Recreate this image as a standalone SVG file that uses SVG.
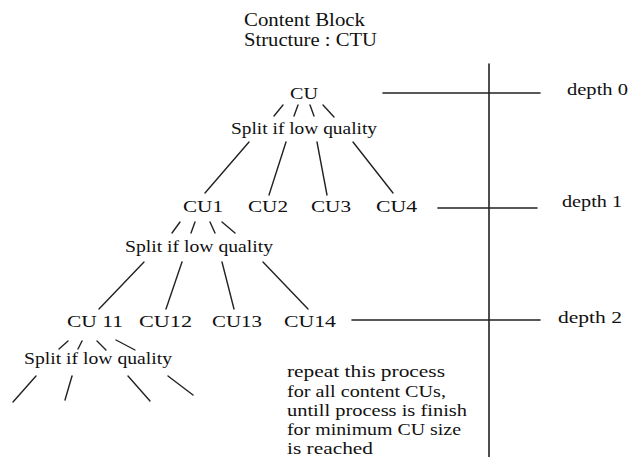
<svg xmlns="http://www.w3.org/2000/svg" width="639" height="457" viewBox="0 0 639 457">
<style>
text{fill:#111}
line{stroke:#222;stroke-width:1.4;stroke-linecap:round}
.ax{stroke-width:1.6}
</style>
<rect width="639" height="457" fill="#fff"/>
<g font-family="Liberation Serif" font-size="17">
<g id="title" font-size="18">
<text x="244" y="26" textLength="121" lengthAdjust="spacingAndGlyphs">Content Block</text>
<text x="244" y="46" textLength="133" lengthAdjust="spacingAndGlyphs">Structure : CTU</text>
</g>
<g id="axis">
<line class="ax" x1="489" y1="64" x2="489" y2="457"/>
<line class="ax" x1="383" y1="93" x2="540" y2="93"/>
<line class="ax" x1="438" y1="208" x2="537" y2="208"/>
<line class="ax" x1="352" y1="320" x2="540" y2="320"/>
<text x="567" y="95" textLength="61" lengthAdjust="spacingAndGlyphs">depth 0</text>
<text x="562" y="207" textLength="60" lengthAdjust="spacingAndGlyphs">depth 1</text>
<text x="558" y="323" textLength="64" lengthAdjust="spacingAndGlyphs">depth 2</text>
</g>
<g id="cu"><text x="290" y="99" textLength="28" lengthAdjust="spacingAndGlyphs">CU</text></g>
<g id="split1"><text x="231" y="134" textLength="146" lengthAdjust="spacingAndGlyphs">Split if low quality</text></g>
<g id="cu1"><text x="183" y="212" textLength="40" lengthAdjust="spacingAndGlyphs">CU1</text></g>
<g id="cu2"><text x="248" y="212" textLength="40" lengthAdjust="spacingAndGlyphs">CU2</text></g>
<g id="cu3"><text x="311" y="212" textLength="40" lengthAdjust="spacingAndGlyphs">CU3</text></g>
<g id="cu4"><text x="376" y="212" textLength="41" lengthAdjust="spacingAndGlyphs">CU4</text></g>
<g id="split2"><text x="125" y="252" textLength="148" lengthAdjust="spacingAndGlyphs">Split if low quality</text></g>
<g id="cu11"><text x="67" y="327" textLength="56" lengthAdjust="spacingAndGlyphs">CU 11</text></g>
<g id="cu12"><text x="139" y="327" textLength="53" lengthAdjust="spacingAndGlyphs">CU12</text></g>
<g id="cu13"><text x="212" y="327" textLength="50" lengthAdjust="spacingAndGlyphs">CU13</text></g>
<g id="cu14"><text x="284" y="327" textLength="52" lengthAdjust="spacingAndGlyphs">CU14</text></g>
<g id="split3"><text x="24" y="364" textLength="148" lengthAdjust="spacingAndGlyphs">Split if low quality</text></g>
<g id="note" font-size="16.5">
<text x="287" y="377" textLength="158" lengthAdjust="spacingAndGlyphs">repeat this process</text>
<text x="287" y="397" textLength="159" lengthAdjust="spacingAndGlyphs">for all content CUs,</text>
<text x="287" y="416" textLength="180" lengthAdjust="spacingAndGlyphs">untill process is finish</text>
<text x="287" y="435" textLength="174" lengthAdjust="spacingAndGlyphs">for minimum CU size</text>
<text x="287" y="454" textLength="86" lengthAdjust="spacingAndGlyphs">is reached</text>
</g>
<g id="connectors">
<line x1="274" y1="116" x2="283" y2="105"/>
<line x1="294" y1="116" x2="298" y2="105"/>
<line x1="310" y1="105" x2="314" y2="116"/>
<line x1="323" y1="105" x2="334" y2="117"/>
<line x1="249" y1="142" x2="205" y2="193"/>
<line x1="286" y1="142" x2="269" y2="195"/>
<line x1="317" y1="142" x2="327" y2="195"/>
<line x1="353" y1="142" x2="393" y2="193"/>
<line x1="172" y1="233" x2="180" y2="222"/>
<line x1="191" y1="233" x2="195" y2="222"/>
<line x1="210" y1="222" x2="215" y2="233"/>
<line x1="222" y1="222" x2="235" y2="233"/>
<line x1="144" y1="262" x2="99" y2="309"/>
<line x1="182" y1="262" x2="166" y2="309"/>
<line x1="222" y1="262" x2="234" y2="309"/>
<line x1="263" y1="262" x2="308" y2="309"/>
<line x1="59" y1="349" x2="68" y2="341"/>
<line x1="78" y1="349" x2="82" y2="341"/>
<line x1="97" y1="341" x2="106" y2="350"/>
<line x1="116" y1="340" x2="135" y2="350"/>
<line x1="36" y1="376" x2="13" y2="402"/>
<line x1="72" y1="376" x2="65" y2="400"/>
<line x1="128" y1="376" x2="150" y2="401"/>
<line x1="168" y1="376" x2="193" y2="395"/>
</g>
</g>
</svg>
